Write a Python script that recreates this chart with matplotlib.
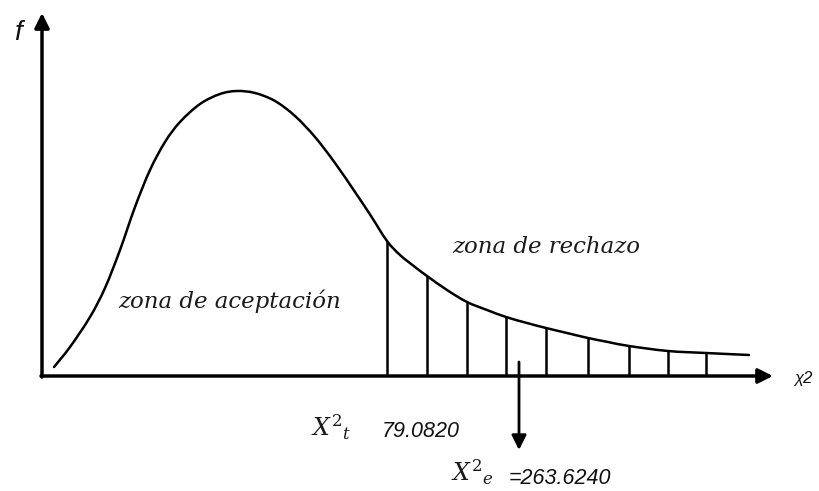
import matplotlib
matplotlib.use('Agg')
import matplotlib.pyplot as plt
from matplotlib.path import Path
from matplotlib.patches import PathPatch

# curve (pixel coordinates, y down)
curve_x = [54, 70, 90, 105, 120, 135, 150, 165, 180, 200, 220, 237, 255, 275, 295, 315, 335,
           355, 371, 387, 400, 415, 427, 447, 467, 487, 506, 527, 546, 567, 588, 608, 629,
           668, 706, 749]
curve_y = [367, 347, 317, 288, 250, 207, 170, 142, 122, 104, 94, 91, 93, 101, 116, 137, 163,
           192, 216, 241, 255, 267, 276, 290, 302, 310, 317, 323, 328, 333, 338, 342, 346,
           351, 353, 355]

# hatch lines in the rejection zone
hatch_x = [387, 427, 467, 506, 546, 588, 629, 668, 706]
hatch_top = [241, 276, 302, 317, 328, 338, 346, 351, 353]

axis_y = 376
axis_x = 42
x_end = 773
y_end = 13
mark_x = 519


def smooth_path(xs, ys):
    # catmull-rom through the points, drawn as cubic bezier segments
    pts = list(zip(xs, ys))
    verts = [pts[0]]
    codes = [Path.MOVETO]
    n = len(pts)
    for i in range(n - 1):
        p0 = pts[max(i - 1, 0)]
        p1 = pts[i]
        p2 = pts[i + 1]
        p3 = pts[min(i + 2, n - 1)]
        c1 = (p1[0] + (p2[0] - p0[0]) / 6, p1[1] + (p2[1] - p0[1]) / 6)
        c2 = (p2[0] - (p3[0] - p1[0]) / 6, p2[1] - (p3[1] - p1[1]) / 6)
        verts += [c1, c2, p2]
        codes += [Path.CURVE4] * 3
    return Path(verts, codes)


fig = plt.figure(figsize=(8.2, 4.91), dpi=100)
ax = fig.add_axes([0, 0, 1, 1])
ax.set_xlim(0, 820)
ax.set_ylim(491, 0)
ax.axis('off')

# axes with arrows
ax.annotate('', xy=(x_end, axis_y), xytext=(axis_x - 1, axis_y),
            arrowprops=dict(arrowstyle='-|>', color='black', lw=2.5, mutation_scale=22,
                            shrinkA=0, shrinkB=0))
ax.annotate('', xy=(axis_x, y_end), xytext=(axis_x, axis_y + 1),
            arrowprops=dict(arrowstyle='-|>', color='black', lw=2.5, mutation_scale=22,
                            shrinkA=0, shrinkB=0))

# density curve
ax.add_patch(PathPatch(smooth_path(curve_x, curve_y), facecolor='none', edgecolor='black',
                       lw=1.8, capstyle='round'))

# vertical lines of rejection zone
ax.vlines(hatch_x, hatch_top, axis_y - 1, color='black', lw=1.8)

# mark of the calculated value with arrow down
ax.annotate('', xy=(mark_x, 450), xytext=(mark_x, 362),
            arrowprops=dict(arrowstyle='-|>', color='black', lw=2, mutation_scale=22,
                            shrinkA=0, shrinkB=0))

sans_it = dict(family='Liberation Sans', style='italic', color='#111111')
serif_it = dict(family='DejaVu Serif', style='italic', color='#1a1a1a')

ax.text(18, 33, 'f', fontsize=20, ha='center', va='center', **sans_it)
ax.text(794, 379, 'χ2', fontsize=12, ha='left', va='center', **sans_it)

ax.text(118, 308, 'zona de aceptación', fontsize=16.5, ha='left', va='baseline', **serif_it)
ax.text(452, 253, 'zona de rechazo', fontsize=16.5, ha='left', va='baseline', **serif_it)

ax.text(311, 436, r'$X^2{}_t$', fontsize=17, ha='left', va='baseline', color='#1a1a1a',
        math_fontfamily='dejavuserif')
ax.text(382, 437, '79.0820', fontsize=15.5, ha='left', va='baseline', **sans_it)
ax.text(451, 481, r'$X^2{}_e$', fontsize=17, ha='left', va='baseline', color='#1a1a1a',
        math_fontfamily='dejavuserif')
ax.text(509, 484, '=263.6240', fontsize=15.5, ha='left', va='baseline', **sans_it)

fig.savefig('out.png', dpi=100)
